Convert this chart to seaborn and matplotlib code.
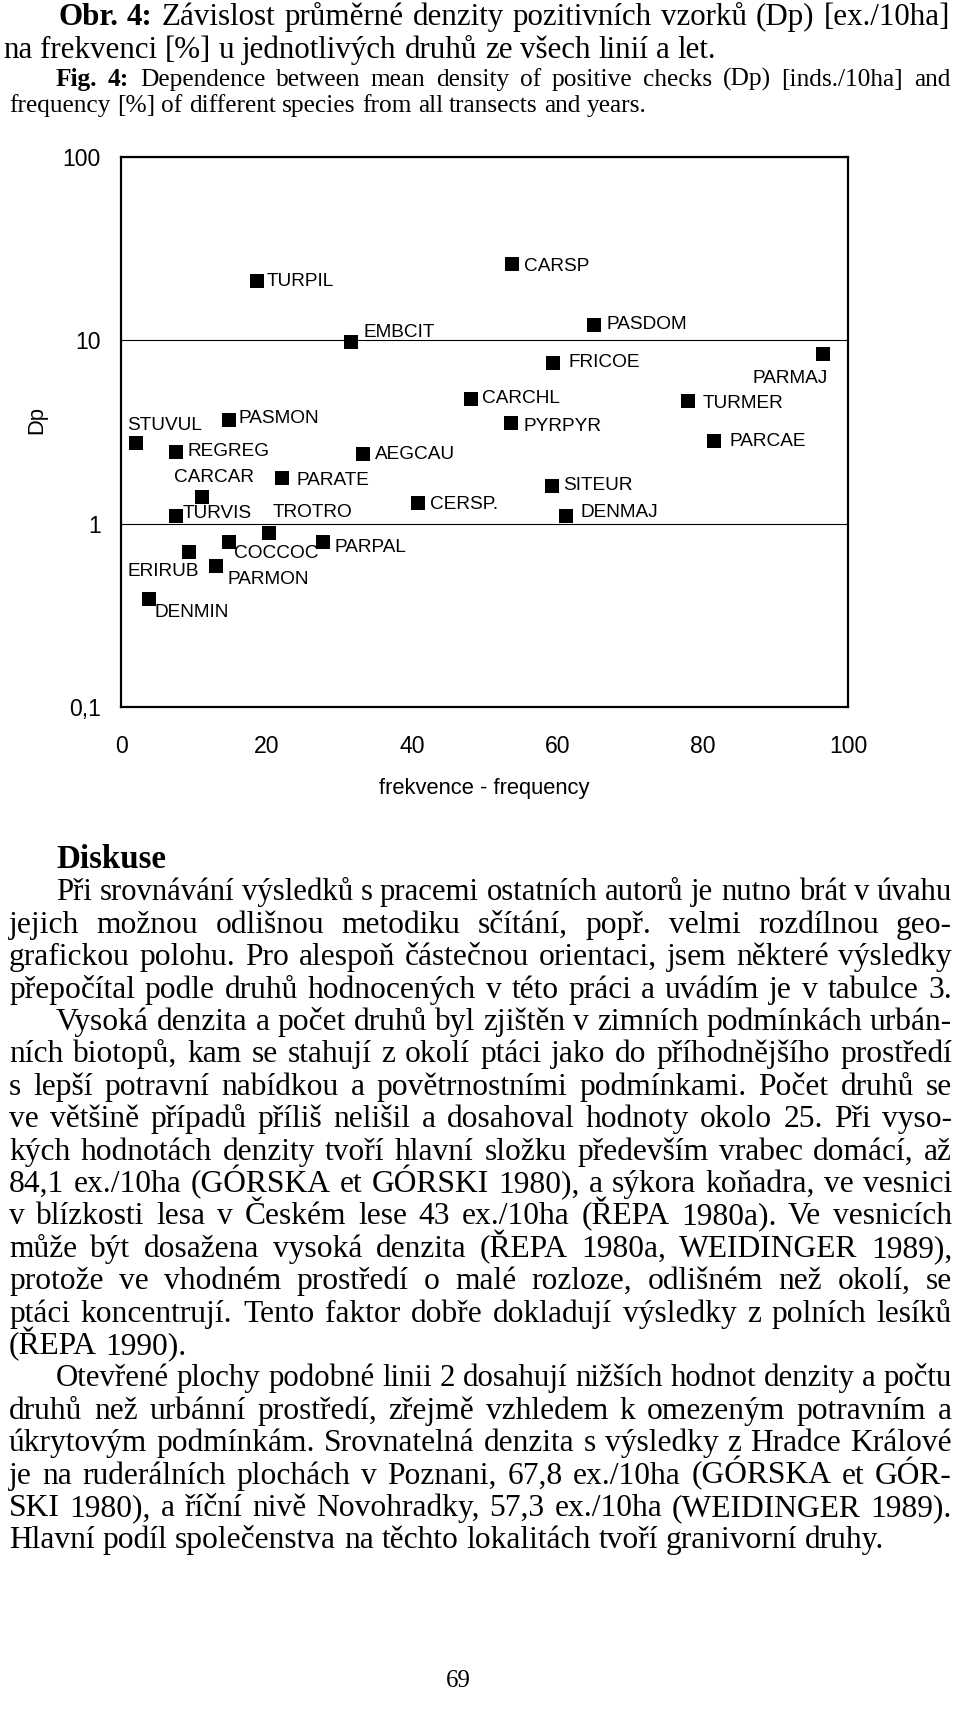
import matplotlib
matplotlib.use('Agg')
import matplotlib.pyplot as plt
import seaborn as sns
import pandas as pd
from matplotlib.ticker import NullLocator, FixedLocator, FixedFormatter

W, H = 960, 1724

# species codes, frequency [%] and mean density of positive checks Dp [ex./10ha]
species = ['TURPIL', 'CARSP', 'EMBCIT', 'CARCHL', 'PASMON', 'PYRPYR', 'STUVUL',
           'REGREG', 'AEGCAU', 'PARATE', 'CARCAR', 'CERSP.', 'TURVIS', 'TROTRO',
           'COCCOC', 'PARPAL', 'ERIRUB', 'PARMON', 'DENMIN', 'PASDOM', 'FRICOE',
           'PARMAJ', 'TURMER', 'PARCAE', 'SITEUR', 'DENMAJ']
frequency = [18.7, 53.8, 31.6, 48.1, 14.9, 53.7, 2.1,
             7.5, 33.3, 22.2, 11.1, 40.8, 7.5, 20.4,
             14.8, 27.8, 9.4, 13.0, 3.8, 65.0, 59.4,
             96.5, 78.0, 81.6, 59.3, 61.2]
density = [21.2, 26.1, 9.8, 4.76, 3.67, 3.55, 2.77,
           2.47, 2.39, 1.78, 1.39, 1.29, 1.10, 0.89,
           0.79, 0.79, 0.70, 0.59, 0.39, 12.2, 7.5,
           8.4, 4.64, 2.81, 1.61, 1.10]

y_ticks = [0.1, 1, 10, 100]
y_ticklabels = ['0,1', '1', '10', '100']
x_ticks = [0, 20, 40, 60, 80, 100]

# where each label sits relative to its marker (px, +dy = down, to cap centre)
label_pos = {
    'TURPIL': (10, -2, 'left'), 'CARSP': (12, 0, 'left'), 'EMBCIT': (12.6, -12, 'left'),
    'CARCHL': (11.7, -3.7, 'left'), 'PASMON': (9.3, -3.7, 'left'), 'PYRPYR': (12.6, 1, 'left'),
    'STUVUL': (-9.3, -19.3, 'left'), 'REGREG': (12, -2.3, 'left'), 'AEGCAU': (11.7, -2.4, 'left'),
    'PARATE': (14, 0, 'left'), 'CARCAR': (-28, -22.3, 'left'), 'CERSP.': (12, -1.4, 'left'),
    'TURVIS': (7.4, -5, 'left'), 'TROTRO': (3.3, -23.3, 'left'), 'COCCOC': (5.7, 8.3, 'left'),
    'PARPAL': (11.7, 2.3, 'left'), 'ERIRUB': (-61.6, 17.3, 'left'), 'PARMON': (12, 11.6, 'left'),
    'DENMIN': (5.7, 11.6, 'left'), 'PASDOM': (12.7, -2.3, 'left'), 'FRICOE': (15.6, -3.4, 'left'),
    'PARMAJ': (5.6, 21.6, 'right'), 'TURMER': (15, -0.7, 'left'), 'PARCAE': (15, -2.3, 'left'),
    'SITEUR': (11, -2.6, 'left'), 'DENMAJ': (14.3, -6, 'left'),
}

caption_cz = [('Obr. 4:', 'bold'), ('Závislost průměrné denzity pozitivních vzorků (Dp) [ex./10ha]', 'normal')]
caption_cz2 = 'na frekvenci [%] u jednotlivých druhů ze všech linií a let.'
caption_en = [('Fig. 4:', 'bold'), ('Dependence between mean density of positive checks (Dp) [inds./10ha] and', 'normal')]
caption_en2 = 'frequency [%] of different species from all transects and years.'

# (text, indented, justified)
body_lines = [
    ('Při srovnávání výsledků s pracemi ostatních autorů je nutno brát v úvahu', True, True),
    ('jejich možnou odlišnou metodiku sčítání, popř. velmi rozdílnou geo-', False, True),
    ('grafickou polohu. Pro alespoň částečnou orientaci, jsem některé výsledky', False, True),
    ('přepočítal podle druhů hodnocených v této práci a uvádím je v tabulce 3.', False, True),
    ('Vysoká denzita a počet druhů byl zjištěn v zimních podmínkách urbán-', True, True),
    ('ních biotopů, kam se stahují z okolí ptáci jako do příhodnějšího prostředí', False, True),
    ('s lepší potravní nabídkou a povětrnostními podmínkami. Počet druhů se', False, True),
    ('ve většině případů příliš nelišil a dosahoval hodnoty okolo 25. Při vyso-', False, True),
    ('kých hodnotách denzity tvoří hlavní složku především vrabec domácí, až', False, True),
    ('84,1 ex./10ha (GÓRSKA et GÓRSKI 1980), a sýkora koňadra, ve vesnici', False, True),
    ('v blízkosti lesa v Českém lese 43 ex./10ha (ŘEPA 1980a). Ve vesnicích', False, True),
    ('může být dosažena vysoká denzita (ŘEPA 1980a, WEIDINGER 1989),', False, True),
    ('protože ve vhodném prostředí o malé rozloze, odlišném než okolí, se', False, True),
    ('ptáci koncentrují. Tento faktor dobře dokladují výsledky z polních lesíků', False, True),
    ('(ŘEPA 1990).', False, False),
    ('Otevřené plochy podobné linii 2 dosahují nižších hodnot denzity a počtu', True, True),
    ('druhů než urbánní prostředí, zřejmě vzhledem k omezeným potravním a', False, True),
    ('úkrytovým podmínkám. Srovnatelná denzita s výsledky z Hradce Králové', False, True),
    ('je na ruderálních plochách v Poznani, 67,8 ex./10ha (GÓRSKA et GÓR-', False, True),
    ('SKI 1980), a říční nivě Novohradky, 57,3 ex./10ha (WEIDINGER 1989).', False, True),
    ('Hlavní podíl společenstva na těchto lokalitách tvoří granivorní druhy.', False, False),
]

sns.set_theme(style='white')
plt.rcParams['font.family'] = ['Liberation Sans', 'DejaVu Sans']
serif = ['Liberation Serif', 'DejaVu Serif']

fig = plt.figure(figsize=(W / 72, H / 72), dpi=72)
fig.patch.set_facecolor('white')

# ---- chart ----
ax = fig.add_axes([121 / W, 1 - 707 / H, 727 / W, 550 / H])
df = pd.DataFrame({'species': species, 'frequency': frequency, 'density': density})
sns.scatterplot(data=df, x='frequency', y='density', marker='s', s=196, color='black',
                edgecolor='none', linewidth=0, legend=False, ax=ax, zorder=3)
ax.set_yscale('log')
ax.set_xlim(0, 100)
ax.set_ylim(0.1, 100)
ax.yaxis.set_major_locator(FixedLocator(y_ticks))
ax.yaxis.set_major_formatter(FixedFormatter(y_ticklabels))
ax.yaxis.set_minor_locator(NullLocator())
ax.set_xticks(x_ticks)
ax.set_xticklabels([str(v) for v in x_ticks])
ax.yaxis.grid(True, color='black', linewidth=1.1)
ax.xaxis.grid(False)
for sp in ax.spines.values():
    sp.set_visible(True)
    sp.set_color('black')
    sp.set_linewidth(2.2)
ax.tick_params(axis='y', direction='out', length=8, width=1.2, pad=12, labelsize=23, colors='black')
ax.tick_params(axis='x', direction='inout', length=16, width=1.2, pad=20, labelsize=23, colors='black')
ax.set_xlabel('frekvence - frequency', fontsize=22, labelpad=20, color='black')
ax.set_ylabel('Dp', fontsize=22, color='black')
ax.yaxis.set_label_coords(-0.102, 0.522)

for name, fx, dy_ in zip(species, frequency, density):
    dx, dy, ha = label_pos[name]
    ax.annotate(name, (fx, dy_), xytext=(dx, -(dy + 7)), textcoords='offset points',
                ha=ha, va='baseline', fontsize=19, color='black')

# ---- page text (justified by spreading the words) ----
renderer = fig.canvas.get_renderer()


def put_line(parts, x0, y, size, x1=None):
    words = []
    for s, wt in parts:
        words += [(w, wt) for w in s.split(' ') if w]
    texts = [fig.text(x0 / W, 1 - y / H, w, fontsize=size, fontweight=wt, family=serif,
                      va='baseline', ha='left', color='black') for w, wt in words]
    widths = [t.get_window_extent(renderer).width for t in texts]
    space = 0.25 * size
    natural = sum(widths) + space * (len(words) - 1)
    if x1 is not None and natural > x1 - x0:
        f = (x1 - x0) / natural
        for t in texts:
            t.set_fontsize(size * f)
        widths = [w * f for w in widths]
        space *= f
    gap = space
    if x1 is not None and len(words) > 1:
        gap = (x1 - x0 - sum(widths)) / (len(words) - 1)
    x = x0
    for t, w in zip(texts, widths):
        t.set_x(x / W)
        x += w + gap


left, right, indent = 9, 952, 56

put_line(caption_cz, 58, 25, 31, x1=950)
put_line([(caption_cz2, 'normal')], 3, 58, 31)
put_line(caption_en, 56, 86, 25.4, x1=950)
put_line([(caption_en2, 'normal')], left, 112, 25.4)

put_line([('Diskuse', 'bold')], indent, 868, 33)
body_size = 31.5
for i, (txt, ind, just) in enumerate(body_lines):
    y = 868 + 32.4 * (i + 1)
    x0 = indent if ind else left
    put_line([(txt, 'normal')], x0, y, body_size, x1=right if just else None)

fig.text(458 / W, 1 - 1681 / H, '69', ha='center', va='center', fontsize=25,
         family=serif, color='black')

fig.savefig('out.png', dpi=72, facecolor='white')
